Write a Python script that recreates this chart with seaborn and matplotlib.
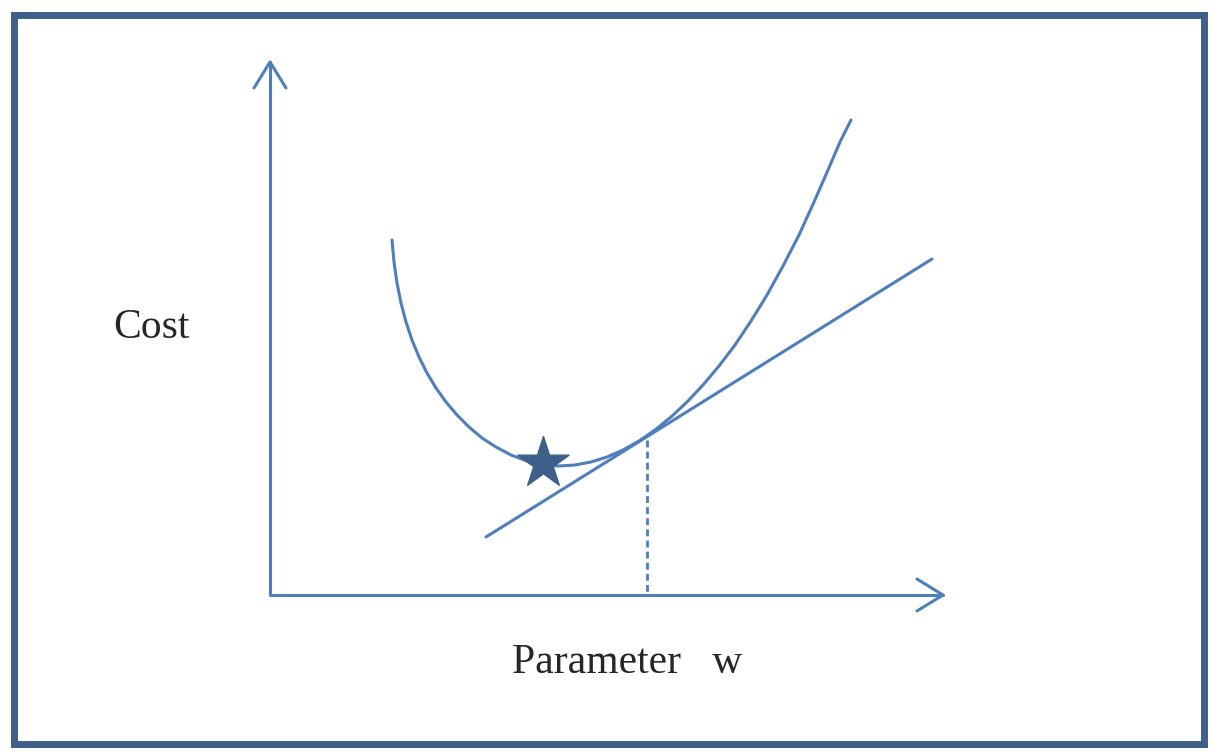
import numpy as np
import pandas as pd
import seaborn as sns
import matplotlib.pyplot as plt

# values (pixel-like coordinates, y grows downward)
curve_x = [392, 394, 397, 401, 406, 412, 419, 427, 436, 446, 457, 469, 482, 496, 511, 527, 543, 559, 575, 591,
           607, 623, 639, 655, 671, 687, 703, 719, 735, 751, 767, 783, 799, 814, 828, 840, 851]
curve_y = [240, 262, 283, 303, 322, 340, 357, 373, 388, 402, 415, 427, 438, 447, 455, 461, 465, 466, 465, 462,
           457, 450, 441, 430, 417, 402, 385, 366, 345, 321, 295, 266, 235, 202, 170, 142, 120]
tangent_x = [486, 932]
tangent_y = [537, 259]
drop_x = [647, 647]
drop_y = [440, 595]
star_x = [543]
star_y = [463]

line_color = "#4f7fba"
dark = "#3d5f8a"

sns.set_style("white")
plt.rcParams['font.family'] = ['Liberation Serif', 'DejaVu Serif']

fig = plt.figure(figsize=(12.17, 7.53), dpi=100)
ax = fig.add_axes([0, 0, 1, 1])
ax.set_xlim(0, 1217)
ax.set_ylim(753, 0)
ax.axis("off")

# frame
ax.add_patch(plt.Rectangle((14, 15), 1190, 729, fill=False, edgecolor=dark, linewidth=5))

# axes with open arrowheads
ax.plot([270, 270, 943], [62, 595, 595], color=line_color, lw=2.2)
ax.plot([254, 270, 286], [88, 62, 88], color=line_color, lw=2.2)
ax.plot([917, 943, 917], [579, 595, 611], color=line_color, lw=2.2)

df = pd.DataFrame({"x": curve_x, "y": curve_y})
sns.lineplot(data=df, x="x", y="y", ax=ax, color=line_color, lw=2.2, sort=False)
ax.plot(tangent_x, tangent_y, color=line_color, lw=2.2)
ax.plot(drop_x, drop_y, color=line_color, lw=2, ls=(0, (2.5, 1.5)))
ax.scatter(star_x, star_y, marker="*", s=1500, color=dark, zorder=5)

ax.text(151, 328, "Cost", fontsize=30, ha="center", va="center")
ax.text(627, 663, "Parameter   w", fontsize=30, ha="center", va="center")
ax.set_xlim(0, 1217)
ax.set_ylim(753, 0)

fig.savefig("out.png", dpi=100)
